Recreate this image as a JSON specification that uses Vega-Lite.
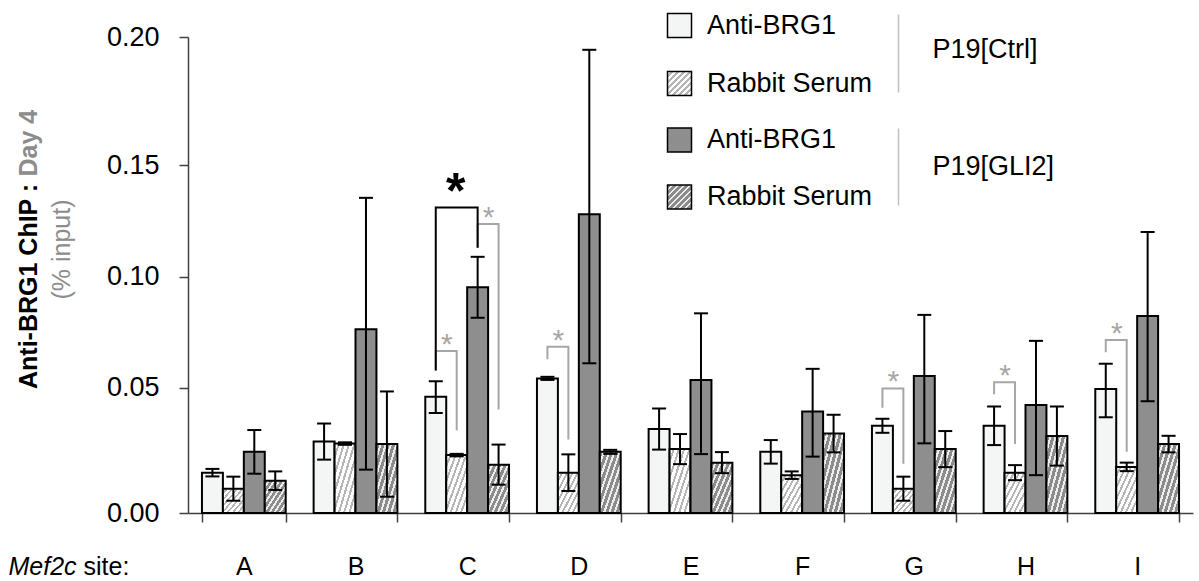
{
  "$schema": "https://vega.github.io/schema/vega-lite/v6.json",
  "width": 1005,
  "height": 476,
  "autosize": {"type": "none"},
  "padding": {"left": 188, "top": 37, "right": 6, "bottom": 68},
  "background": "white",
  "config": {
    "view": {"stroke": null},
    "font": "Liberation Sans",
    "axis": {"grid": false, "labelFont": "Liberation Sans", "titleFont": "Liberation Sans"},
    "legend": {
      "orient": "none",
      "direction": "vertical",
      "symbolType": "square",
      "symbolSize": 576,
      "labelFontSize": 27,
      "labelColor": "#000000",
      "labelOffset": 14,
      "labelLimit": 300,
      "padding": 0
    }
  },
  "datasets": {
    "chip": [
      {"site": "A", "cell": "P19[Ctrl]", "antibody": "Anti-BRG1", "series": "Ctrl Anti-BRG1", "value": 0.0161, "lo": 0.0146, "hi": 0.0176},
      {"site": "A", "cell": "P19[Ctrl]", "antibody": "Rabbit Serum", "series": "Ctrl Rabbit Serum", "value": 0.0097, "lo": 0.0049, "hi": 0.0145},
      {"site": "A", "cell": "P19[GLI2]", "antibody": "Anti-BRG1", "series": "GLI2 Anti-BRG1", "value": 0.0244, "lo": 0.0157, "hi": 0.0331},
      {"site": "A", "cell": "P19[GLI2]", "antibody": "Rabbit Serum", "series": "GLI2 Rabbit Serum", "value": 0.0129, "lo": 0.0092, "hi": 0.0166},
      {"site": "B", "cell": "P19[Ctrl]", "antibody": "Anti-BRG1", "series": "Ctrl Anti-BRG1", "value": 0.0285, "lo": 0.0213, "hi": 0.0357},
      {"site": "B", "cell": "P19[Ctrl]", "antibody": "Rabbit Serum", "series": "Ctrl Rabbit Serum", "value": 0.0277, "lo": 0.0272, "hi": 0.0282},
      {"site": "B", "cell": "P19[GLI2]", "antibody": "Anti-BRG1", "series": "GLI2 Anti-BRG1", "value": 0.0763, "lo": 0.0173, "hi": 0.1353},
      {"site": "B", "cell": "P19[GLI2]", "antibody": "Rabbit Serum", "series": "GLI2 Rabbit Serum", "value": 0.0275, "lo": 0.0065, "hi": 0.0485},
      {"site": "C", "cell": "P19[Ctrl]", "antibody": "Anti-BRG1", "series": "Ctrl Anti-BRG1", "value": 0.0464, "lo": 0.0399, "hi": 0.0529},
      {"site": "C", "cell": "P19[Ctrl]", "antibody": "Rabbit Serum", "series": "Ctrl Rabbit Serum", "value": 0.0231, "lo": 0.0226, "hi": 0.0236},
      {"site": "C", "cell": "P19[GLI2]", "antibody": "Anti-BRG1", "series": "GLI2 Anti-BRG1", "value": 0.0952, "lo": 0.0815, "hi": 0.1089},
      {"site": "C", "cell": "P19[GLI2]", "antibody": "Rabbit Serum", "series": "GLI2 Rabbit Serum", "value": 0.0193, "lo": 0.0113, "hi": 0.0273},
      {"site": "D", "cell": "P19[Ctrl]", "antibody": "Anti-BRG1", "series": "Ctrl Anti-BRG1", "value": 0.0542, "lo": 0.0535, "hi": 0.0549},
      {"site": "D", "cell": "P19[Ctrl]", "antibody": "Rabbit Serum", "series": "Ctrl Rabbit Serum", "value": 0.0161, "lo": 0.0088, "hi": 0.0234},
      {"site": "D", "cell": "P19[GLI2]", "antibody": "Anti-BRG1", "series": "GLI2 Anti-BRG1", "value": 0.128, "lo": 0.061, "hi": 0.195},
      {"site": "D", "cell": "P19[GLI2]", "antibody": "Rabbit Serum", "series": "GLI2 Rabbit Serum", "value": 0.0244, "lo": 0.0236, "hi": 0.0252},
      {"site": "E", "cell": "P19[Ctrl]", "antibody": "Anti-BRG1", "series": "Ctrl Anti-BRG1", "value": 0.0335, "lo": 0.0253, "hi": 0.0417},
      {"site": "E", "cell": "P19[Ctrl]", "antibody": "Rabbit Serum", "series": "Ctrl Rabbit Serum", "value": 0.0255, "lo": 0.0195, "hi": 0.0315},
      {"site": "E", "cell": "P19[GLI2]", "antibody": "Anti-BRG1", "series": "GLI2 Anti-BRG1", "value": 0.0535, "lo": 0.0235, "hi": 0.0835},
      {"site": "E", "cell": "P19[GLI2]", "antibody": "Rabbit Serum", "series": "GLI2 Rabbit Serum", "value": 0.0201, "lo": 0.0159, "hi": 0.0243},
      {"site": "F", "cell": "P19[Ctrl]", "antibody": "Anti-BRG1", "series": "Ctrl Anti-BRG1", "value": 0.0244, "lo": 0.0197, "hi": 0.0291},
      {"site": "F", "cell": "P19[Ctrl]", "antibody": "Rabbit Serum", "series": "Ctrl Rabbit Serum", "value": 0.0151, "lo": 0.0136, "hi": 0.0166},
      {"site": "F", "cell": "P19[GLI2]", "antibody": "Anti-BRG1", "series": "GLI2 Anti-BRG1", "value": 0.0405, "lo": 0.0225, "hi": 0.0585},
      {"site": "F", "cell": "P19[GLI2]", "antibody": "Rabbit Serum", "series": "GLI2 Rabbit Serum", "value": 0.0317, "lo": 0.0242, "hi": 0.0392},
      {"site": "G", "cell": "P19[Ctrl]", "antibody": "Anti-BRG1", "series": "Ctrl Anti-BRG1", "value": 0.0348, "lo": 0.032, "hi": 0.0376},
      {"site": "G", "cell": "P19[Ctrl]", "antibody": "Rabbit Serum", "series": "Ctrl Rabbit Serum", "value": 0.0097, "lo": 0.0049, "hi": 0.0145},
      {"site": "G", "cell": "P19[GLI2]", "antibody": "Anti-BRG1", "series": "GLI2 Anti-BRG1", "value": 0.0553, "lo": 0.0278, "hi": 0.0828},
      {"site": "G", "cell": "P19[GLI2]", "antibody": "Rabbit Serum", "series": "GLI2 Rabbit Serum", "value": 0.0255, "lo": 0.0183, "hi": 0.0327},
      {"site": "H", "cell": "P19[Ctrl]", "antibody": "Anti-BRG1", "series": "Ctrl Anti-BRG1", "value": 0.0348, "lo": 0.0271, "hi": 0.0425},
      {"site": "H", "cell": "P19[Ctrl]", "antibody": "Rabbit Serum", "series": "Ctrl Rabbit Serum", "value": 0.0161, "lo": 0.0131, "hi": 0.0191},
      {"site": "H", "cell": "P19[GLI2]", "antibody": "Anti-BRG1", "series": "GLI2 Anti-BRG1", "value": 0.0431, "lo": 0.0151, "hi": 0.0711},
      {"site": "H", "cell": "P19[GLI2]", "antibody": "Rabbit Serum", "series": "GLI2 Rabbit Serum", "value": 0.0307, "lo": 0.0189, "hi": 0.0425},
      {"site": "I", "cell": "P19[Ctrl]", "antibody": "Anti-BRG1", "series": "Ctrl Anti-BRG1", "value": 0.0495, "lo": 0.0382, "hi": 0.0608},
      {"site": "I", "cell": "P19[Ctrl]", "antibody": "Rabbit Serum", "series": "Ctrl Rabbit Serum", "value": 0.0184, "lo": 0.0167, "hi": 0.0201},
      {"site": "I", "cell": "P19[GLI2]", "antibody": "Anti-BRG1", "series": "GLI2 Anti-BRG1", "value": 0.0823, "lo": 0.0446, "hi": 0.12},
      {"site": "I", "cell": "P19[GLI2]", "antibody": "Rabbit Serum", "series": "GLI2 Rabbit Serum", "value": 0.0275, "lo": 0.0242, "hi": 0.0308}
    ],
    "brackets": [
      {"bracket": "C serum", "comparison": "antibody vs serum", "site": "C", "series": "Ctrl Anti-BRG1", "step": 1, "y": 0.0577},
      {"bracket": "C serum", "comparison": "antibody vs serum", "site": "C", "series": "Ctrl Anti-BRG1", "step": 2, "y": 0.0665},
      {"bracket": "C serum", "comparison": "antibody vs serum", "site": "C", "series": "Ctrl Rabbit Serum", "step": 3, "y": 0.0665},
      {"bracket": "C serum", "comparison": "antibody vs serum", "site": "C", "series": "Ctrl Rabbit Serum", "step": 4, "y": 0.033},
      {"bracket": "C GLI2 serum", "comparison": "antibody vs serum", "site": "C", "series": "GLI2 Anti-BRG1", "step": 1, "y": 0.113},
      {"bracket": "C GLI2 serum", "comparison": "antibody vs serum", "site": "C", "series": "GLI2 Anti-BRG1", "step": 2, "y": 0.1236},
      {"bracket": "C GLI2 serum", "comparison": "antibody vs serum", "site": "C", "series": "GLI2 Rabbit Serum", "step": 3, "y": 0.1236},
      {"bracket": "C GLI2 serum", "comparison": "antibody vs serum", "site": "C", "series": "GLI2 Rabbit Serum", "step": 4, "y": 0.0413},
      {"bracket": "D serum", "comparison": "antibody vs serum", "site": "D", "series": "Ctrl Anti-BRG1", "step": 1, "y": 0.0628},
      {"bracket": "D serum", "comparison": "antibody vs serum", "site": "D", "series": "Ctrl Anti-BRG1", "step": 2, "y": 0.0685},
      {"bracket": "D serum", "comparison": "antibody vs serum", "site": "D", "series": "Ctrl Rabbit Serum", "step": 3, "y": 0.0685},
      {"bracket": "D serum", "comparison": "antibody vs serum", "site": "D", "series": "Ctrl Rabbit Serum", "step": 4, "y": 0.0293},
      {"bracket": "G serum", "comparison": "antibody vs serum", "site": "G", "series": "Ctrl Anti-BRG1", "step": 1, "y": 0.042},
      {"bracket": "G serum", "comparison": "antibody vs serum", "site": "G", "series": "Ctrl Anti-BRG1", "step": 2, "y": 0.0497},
      {"bracket": "G serum", "comparison": "antibody vs serum", "site": "G", "series": "Ctrl Rabbit Serum", "step": 3, "y": 0.0497},
      {"bracket": "G serum", "comparison": "antibody vs serum", "site": "G", "series": "Ctrl Rabbit Serum", "step": 4, "y": 0.0197},
      {"bracket": "H serum", "comparison": "antibody vs serum", "site": "H", "series": "Ctrl Anti-BRG1", "step": 1, "y": 0.0474},
      {"bracket": "H serum", "comparison": "antibody vs serum", "site": "H", "series": "Ctrl Anti-BRG1", "step": 2, "y": 0.0524},
      {"bracket": "H serum", "comparison": "antibody vs serum", "site": "H", "series": "Ctrl Rabbit Serum", "step": 3, "y": 0.0524},
      {"bracket": "H serum", "comparison": "antibody vs serum", "site": "H", "series": "Ctrl Rabbit Serum", "step": 4, "y": 0.0275},
      {"bracket": "I serum", "comparison": "antibody vs serum", "site": "I", "series": "Ctrl Anti-BRG1", "step": 1, "y": 0.066},
      {"bracket": "I serum", "comparison": "antibody vs serum", "site": "I", "series": "Ctrl Anti-BRG1", "step": 2, "y": 0.0715},
      {"bracket": "I serum", "comparison": "antibody vs serum", "site": "I", "series": "Ctrl Rabbit Serum", "step": 3, "y": 0.0715},
      {"bracket": "I serum", "comparison": "antibody vs serum", "site": "I", "series": "Ctrl Rabbit Serum", "step": 4, "y": 0.0244},
      {"bracket": "C Ctrl vs GLI2", "comparison": "Ctrl vs GLI2", "site": "C", "series": "Ctrl Anti-BRG1", "step": 1, "y": 0.0577},
      {"bracket": "C Ctrl vs GLI2", "comparison": "Ctrl vs GLI2", "site": "C", "series": "Ctrl Anti-BRG1", "step": 2, "y": 0.131},
      {"bracket": "C Ctrl vs GLI2", "comparison": "Ctrl vs GLI2", "site": "C", "series": "GLI2 Anti-BRG1", "step": 3, "y": 0.131},
      {"bracket": "C Ctrl vs GLI2", "comparison": "Ctrl vs GLI2", "site": "C", "series": "GLI2 Anti-BRG1", "step": 4, "y": 0.113}
    ],
    "stars": [
      {"comparison": "antibody vs serum", "site": "C", "from": "Ctrl Anti-BRG1", "y": 0.0665},
      {"comparison": "antibody vs serum", "site": "C", "from": "GLI2 Anti-BRG1", "y": 0.1236},
      {"comparison": "antibody vs serum", "site": "D", "from": "Ctrl Anti-BRG1", "y": 0.0685},
      {"comparison": "antibody vs serum", "site": "G", "from": "Ctrl Anti-BRG1", "y": 0.0497},
      {"comparison": "antibody vs serum", "site": "H", "from": "Ctrl Anti-BRG1", "y": 0.0524},
      {"comparison": "antibody vs serum", "site": "I", "from": "Ctrl Anti-BRG1", "y": 0.0715},
      {"comparison": "Ctrl vs GLI2", "site": "C", "from": "Ctrl Anti-BRG1", "y": 0.131}
    ]
  },
  "layer": [
    {
      "data": {"name": "chip"},
      "transform": [{"filter": {"field": "series", "equal": "Ctrl Anti-BRG1"}}],
      "mark": {"type": "bar", "fill": "#f4f6f5", "stroke": "#000000", "strokeWidth": 2},
      "encoding": {
        "x": {
          "field": "site", "type": "nominal",
          "scale": {"paddingInner": 0.25, "paddingOuter": 0.125},
          "axis": {
            "orient": "bottom",
            "labelAngle": 0, "labelFontSize": 25, "labelColor": "#000000", "labelPadding": 32,
            "tickBand": "extent", "tickSize": 9, "tickWidth": 1.5, "tickColor": "#404040",
            "domainColor": "#404040", "domainWidth": 1.5,
            "title": "Mef2c", "titleFontStyle": "italic", "titleFontWeight": "normal", "titleFontSize": 25,
            "titleColor": "#000000", "titleAlign": "left", "titleBaseline": "top", "titleX": -180, "titleY": 41
          }
        },
        "xOffset": {"field": "series", "type": "nominal", "scale": {"domain": ["Ctrl Anti-BRG1", "Ctrl Rabbit Serum", "GLI2 Anti-BRG1", "GLI2 Rabbit Serum"], "paddingInner": 0, "paddingOuter": 0}},
        "y": {
          "field": "value", "type": "quantitative",
          "scale": {"type": "linear", "domain": [0, 0.05, 0.1, 0.15, 0.2], "range": [476, 350.7, 239.7, 128, 0], "nice": false, "zero": false},
          "axis": {
            "orient": "left",
            "values": [0, 0.05, 0.1, 0.15, 0.2], "format": ".2f",
            "labelFontSize": 27, "labelColor": "#000000", "labelPadding": 20,
            "tickSize": 9, "tickWidth": 1.5, "tickColor": "#404040",
            "domainColor": "#404040", "domainWidth": 1.5,
            "title": "Anti-BRG1 ChIP :", "titleFontWeight": "bold", "titleFontSize": 25, "titleColor": "#000000",
            "titleAngle": -90, "titleAlign": "left", "titleBaseline": "middle", "titleX": -160, "titleY": 351.5
          }
        },
        "opacity": {
          "field": "antibody", "type": "ordinal", "scale": {"range": [1, 1]},
          "legend": {"title": null, "legendX": 478, "legendY": -25}
        }
      }
    },
    {
      "data": {"name": "chip"},
      "transform": [{"filter": {"field": "series", "equal": "Ctrl Rabbit Serum"}}],
      "mark": {
        "type": "bar", "stroke": "#000000", "strokeWidth": 2,
        "fill": {"gradient": "linear", "x1": 0, "y1": 0, "x2": 1, "y2": 1, "stops": [
          {"offset": 0, "color": "#ffffff"}, {"offset": 0.075, "color": "#ffffff"}, {"offset": 0.075, "color": "#b5b5b5"}, {"offset": 0.125, "color": "#b5b5b5"},
          {"offset": 0.125, "color": "#ffffff"}, {"offset": 0.2, "color": "#ffffff"}, {"offset": 0.2, "color": "#b5b5b5"}, {"offset": 0.25, "color": "#b5b5b5"},
          {"offset": 0.25, "color": "#ffffff"}, {"offset": 0.325, "color": "#ffffff"}, {"offset": 0.325, "color": "#b5b5b5"}, {"offset": 0.375, "color": "#b5b5b5"},
          {"offset": 0.375, "color": "#ffffff"}, {"offset": 0.45, "color": "#ffffff"}, {"offset": 0.45, "color": "#b5b5b5"}, {"offset": 0.5, "color": "#b5b5b5"},
          {"offset": 0.5, "color": "#ffffff"}, {"offset": 0.575, "color": "#ffffff"}, {"offset": 0.575, "color": "#b5b5b5"}, {"offset": 0.625, "color": "#b5b5b5"},
          {"offset": 0.625, "color": "#ffffff"}, {"offset": 0.7, "color": "#ffffff"}, {"offset": 0.7, "color": "#b5b5b5"}, {"offset": 0.75, "color": "#b5b5b5"},
          {"offset": 0.75, "color": "#ffffff"}, {"offset": 0.825, "color": "#ffffff"}, {"offset": 0.825, "color": "#b5b5b5"}, {"offset": 0.875, "color": "#b5b5b5"},
          {"offset": 0.875, "color": "#ffffff"}, {"offset": 0.95, "color": "#ffffff"}, {"offset": 0.95, "color": "#b5b5b5"}, {"offset": 1, "color": "#b5b5b5"}
        ]}
      },
      "encoding": {
        "x": {"field": "site", "type": "nominal", "axis": null},
        "xOffset": {"field": "series", "type": "nominal"},
        "y": {"field": "value", "type": "quantitative", "axis": null},
        "opacity": {
          "field": "antibody", "type": "ordinal", "scale": {"range": [1, 1]},
          "legend": {"title": null, "legendX": 478, "legendY": 33}
        }
      }
    },
    {
      "data": {"name": "chip"},
      "transform": [{"filter": {"field": "series", "equal": "GLI2 Anti-BRG1"}}],
      "mark": {"type": "bar", "fill": "#8e8e8e", "stroke": "#000000", "strokeWidth": 2},
      "encoding": {
        "x": {"field": "site", "type": "nominal", "axis": null},
        "xOffset": {"field": "series", "type": "nominal"},
        "y": {"field": "value", "type": "quantitative", "axis": null},
        "opacity": {
          "field": "antibody", "type": "ordinal", "scale": {"range": [1, 1]},
          "legend": {"title": null, "legendX": 478, "legendY": 89.5}
        }
      }
    },
    {
      "data": {"name": "chip"},
      "transform": [{"filter": {"field": "series", "equal": "GLI2 Rabbit Serum"}}],
      "mark": {
        "type": "bar", "stroke": "#000000", "strokeWidth": 2,
        "fill": {"gradient": "linear", "x1": 0, "y1": 0, "x2": 1, "y2": 1, "stops": [
          {"offset": 0, "color": "#8c8c8c"}, {"offset": 0.075, "color": "#8c8c8c"}, {"offset": 0.075, "color": "#eeeeee"}, {"offset": 0.125, "color": "#eeeeee"},
          {"offset": 0.125, "color": "#8c8c8c"}, {"offset": 0.2, "color": "#8c8c8c"}, {"offset": 0.2, "color": "#eeeeee"}, {"offset": 0.25, "color": "#eeeeee"},
          {"offset": 0.25, "color": "#8c8c8c"}, {"offset": 0.325, "color": "#8c8c8c"}, {"offset": 0.325, "color": "#eeeeee"}, {"offset": 0.375, "color": "#eeeeee"},
          {"offset": 0.375, "color": "#8c8c8c"}, {"offset": 0.45, "color": "#8c8c8c"}, {"offset": 0.45, "color": "#eeeeee"}, {"offset": 0.5, "color": "#eeeeee"},
          {"offset": 0.5, "color": "#8c8c8c"}, {"offset": 0.575, "color": "#8c8c8c"}, {"offset": 0.575, "color": "#eeeeee"}, {"offset": 0.625, "color": "#eeeeee"},
          {"offset": 0.625, "color": "#8c8c8c"}, {"offset": 0.7, "color": "#8c8c8c"}, {"offset": 0.7, "color": "#eeeeee"}, {"offset": 0.75, "color": "#eeeeee"},
          {"offset": 0.75, "color": "#8c8c8c"}, {"offset": 0.825, "color": "#8c8c8c"}, {"offset": 0.825, "color": "#eeeeee"}, {"offset": 0.875, "color": "#eeeeee"},
          {"offset": 0.875, "color": "#8c8c8c"}, {"offset": 0.95, "color": "#8c8c8c"}, {"offset": 0.95, "color": "#eeeeee"}, {"offset": 1, "color": "#eeeeee"}
        ]}
      },
      "encoding": {
        "x": {"field": "site", "type": "nominal", "axis": null},
        "xOffset": {"field": "series", "type": "nominal"},
        "y": {"field": "value", "type": "quantitative", "axis": null},
        "opacity": {
          "field": "antibody", "type": "ordinal", "scale": {"range": [1, 1]},
          "legend": {"title": null, "legendX": 478, "legendY": 146.5}
        }
      }
    },
    {
      "data": {"name": "chip"},
      "mark": {"type": "rule", "color": "#000000", "strokeWidth": 2},
      "encoding": {
        "x": {
          "field": "site", "type": "nominal",
          "axis": {
            "orient": "bottom", "labels": false, "ticks": false, "domain": false,
            "title": "site:", "titleFontWeight": "normal", "titleFontSize": 25, "titleColor": "#000000",
            "titleAlign": "left", "titleBaseline": "top", "titleX": -105, "titleY": 41
          }
        },
        "xOffset": {"field": "series", "type": "nominal"},
        "y": {
          "field": "lo", "type": "quantitative",
          "axis": {
            "orient": "left", "labels": false, "ticks": false, "domain": false,
            "title": "Day 4", "titleFontWeight": "bold", "titleFontSize": 25, "titleColor": "#8c8c8c",
            "titleAngle": -90, "titleAlign": "left", "titleBaseline": "middle", "titleX": -160, "titleY": 139
          }
        },
        "y2": {"field": "hi"}
      }
    },
    {
      "data": {"name": "chip"},
      "mark": {"type": "tick", "orient": "horizontal", "color": "#000000", "size": 14, "thickness": 2, "opacity": 1},
      "encoding": {
        "x": {
          "field": "site", "type": "nominal",
          "axis": {
            "orient": "top", "values": ["G"], "labels": false, "domain": false, "title": null,
            "ticks": true, "tickSize": 78, "tickColor": "#bfbfbf", "tickWidth": 1.5, "tickOffset": -15.8, "offset": -55
          }
        },
        "xOffset": {"field": "series", "type": "nominal"},
        "y": {
          "field": "lo", "type": "quantitative",
          "axis": {
            "orient": "left", "labels": false, "ticks": false, "domain": false,
            "title": "P19[Ctrl]", "titleFontWeight": "normal", "titleFontSize": 27, "titleColor": "#000000",
            "titleAngle": 0, "titleAlign": "left", "titleBaseline": "middle", "titleX": 744, "titleY": 12.7
          }
        }
      }
    },
    {
      "data": {"name": "chip"},
      "mark": {"type": "tick", "orient": "horizontal", "color": "#000000", "size": 14, "thickness": 2, "opacity": 1},
      "encoding": {
        "x": {
          "field": "site", "type": "nominal",
          "axis": {
            "orient": "top", "values": ["G"], "labels": false, "domain": false, "title": null,
            "ticks": true, "tickSize": 77, "tickColor": "#bfbfbf", "tickWidth": 1.5, "tickOffset": -15.8, "offset": -168
          }
        },
        "xOffset": {"field": "series", "type": "nominal"},
        "y": {
          "field": "hi", "type": "quantitative",
          "axis": {
            "orient": "left", "labels": false, "ticks": false, "domain": false,
            "title": "P19[GLI2]", "titleFontWeight": "normal", "titleFontSize": 27, "titleColor": "#000000",
            "titleAngle": 0, "titleAlign": "left", "titleBaseline": "middle", "titleX": 744, "titleY": 129.7
          }
        }
      }
    },
    {
      "data": {"name": "brackets"},
      "transform": [{"filter": {"field": "comparison", "equal": "antibody vs serum"}}],
      "mark": {"type": "line", "color": "#a6a6a6", "strokeWidth": 2, "xOffset": 1},
      "encoding": {
        "x": {"field": "site", "type": "nominal", "axis": null},
        "xOffset": {"field": "series", "type": "nominal"},
        "y": {
          "field": "y", "type": "quantitative",
          "axis": {
            "orient": "left", "labels": false, "ticks": false, "domain": false,
            "title": "(% input)", "titleFontWeight": "normal", "titleFontSize": 25, "titleColor": "#8c8c8c",
            "titleAngle": -90, "titleAlign": "center", "titleBaseline": "middle", "titleX": -127, "titleY": 212
          }
        },
        "detail": {"field": "bracket"},
        "order": {"field": "step", "type": "quantitative"}
      }
    },
    {
      "data": {"name": "brackets"},
      "transform": [{"filter": {"field": "comparison", "equal": "Ctrl vs GLI2"}}],
      "mark": {"type": "line", "color": "#000000", "strokeWidth": 2, "xOffset": -2},
      "encoding": {
        "x": {"field": "site", "type": "nominal", "axis": null},
        "xOffset": {"field": "series", "type": "nominal"},
        "y": {"field": "y", "type": "quantitative", "axis": null},
        "detail": {"field": "bracket"},
        "order": {"field": "step", "type": "quantitative"}
      }
    },
    {
      "data": {"name": "stars"},
      "transform": [{"filter": {"field": "comparison", "equal": "antibody vs serum"}}],
      "mark": {"type": "text", "text": "*", "color": "#a6a6a6", "fontSize": 30, "baseline": "alphabetic", "align": "center", "dx": 11, "dy": 3},
      "encoding": {
        "x": {"field": "site", "type": "nominal", "axis": null},
        "xOffset": {"field": "from", "type": "nominal"},
        "y": {"field": "y", "type": "quantitative", "axis": null}
      }
    },
    {
      "data": {"name": "stars"},
      "transform": [{"filter": {"field": "comparison", "equal": "Ctrl vs GLI2"}}],
      "mark": {"type": "text", "text": "*", "color": "#000000", "fontSize": 50, "fontWeight": "bold", "baseline": "alphabetic", "align": "center", "dx": 20, "dy": 1},
      "encoding": {
        "x": {"field": "site", "type": "nominal", "axis": null},
        "xOffset": {"field": "from", "type": "nominal"},
        "y": {"field": "y", "type": "quantitative", "axis": null}
      }
    }
  ],
  "resolve": {
    "scale": {"opacity": "independent"},
    "axis": {"x": "independent", "y": "independent"}
  }
}
